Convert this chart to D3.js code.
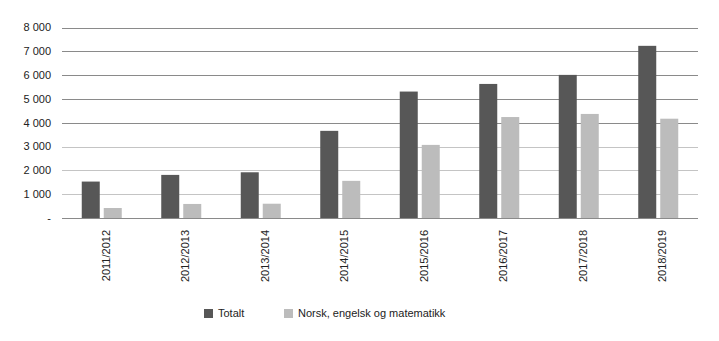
<!DOCTYPE html>
<html>
<head>
<meta charset="utf-8">
<script src="https://cdn.jsdelivr.net/npm/d3@7"></script>
<style>
  body { margin: 0; background: #fff; }
  svg { display: block; font-family: "Liberation Sans", Arial, sans-serif; }
</style>
</head>
<body>
<svg id="chart" width="719" height="341"></svg>
<script>
// School years on the x axis
const years = ["2011/2012", "2012/2013", "2013/2014", "2014/2015",
               "2015/2016", "2016/2017", "2017/2018", "2018/2019"];
// Series values
const totalt = [1530, 1810, 1920, 3660, 5310, 5630, 6010, 7230];
const norskEngelskMatte = [420, 590, 600, 1560, 3070, 4240, 4370, 4170];
const seriesNames = ["Totalt", "Norsk, engelsk og matematikk"];
const seriesColors = ["#575757", "#bcbcbc"];
// Y axis ticks
const yTicks = [0, 1000, 2000, 3000, 4000, 5000, 6000, 7000, 8000];

const svg = d3.select("#chart");
const margin = { left: 62, right: 21, top: 27.5, bottom: 123 };
const W = 719, H = 341;

const x = d3.scaleBand().domain(years).range([margin.left, W - margin.right]);
const y = d3.scaleLinear().domain([0, 8000]).range([H - margin.bottom, margin.top]);

const fmt = v => v === 0 ? "-" : d3.format(",")(v).replace(",", "\u2009").replace("\u2009", " ");

// Gridlines
svg.append("g")
  .selectAll("line")
  .data(yTicks)
  .join("line")
  .attr("x1", margin.left)
  .attr("x2", W - margin.right)
  .attr("y1", d => Math.round(y(d)) + 0.5)
  .attr("y2", d => Math.round(y(d)) + 0.5)
  .attr("stroke", d => (d === 0 || d >= 4000) ? "#8a8a8a" : "#c4c4c4")
  .attr("stroke-width", 1);

// Y tick labels
svg.append("g")
  .selectAll("text")
  .data(yTicks)
  .join("text")
  .attr("x", 51)
  .attr("y", d => y(d))
  .attr("dy", "0.35em")
  .attr("text-anchor", "end")
  .attr("font-size", 11)
  .attr("fill", "#222")
  .text(d => d === 0 ? "-" : d3.format(",")(d).replace(",", " "));

// Bars
const barW = 18, gap = 4;
const series = [totalt, norskEngelskMatte];
series.forEach((vals, si) => {
  svg.append("g")
    .selectAll("rect")
    .data(years)
    .join("rect")
    .attr("x", (d) => x(d) + x.bandwidth() / 2 - barW - gap / 2 + si * (barW + gap))
    .attr("y", (d, i) => y(vals[i]))
    .attr("width", barW)
    .attr("height", (d, i) => y(0) - y(vals[i]))
    .attr("fill", seriesColors[si]);
});

// X labels, rotated
svg.append("g")
  .selectAll("text")
  .data(years)
  .join("text")
  .attr("transform", d => `translate(${x(d) + x.bandwidth() / 2 + 4},${y(0) + 12}) rotate(-90)`)
  .attr("text-anchor", "end")
  .attr("dy", "0.35em")
  .attr("font-size", 11)
  .attr("fill", "#222")
  .text(d => d);

// Legend
const legendX = [204, 284];
const legend = svg.append("g");
seriesNames.forEach((name, i) => {
  legend.append("rect")
    .attr("x", legendX[i])
    .attr("y", 309)
    .attr("width", 9)
    .attr("height", 9)
    .attr("fill", seriesColors[i]);
  legend.append("text")
    .attr("x", legendX[i] + 14)
    .attr("y", 313.5)
    .attr("dy", "0.35em")
    .attr("font-size", 11)
    .attr("fill", "#222")
    .text(name);
});
</script>
</body>
</html>
